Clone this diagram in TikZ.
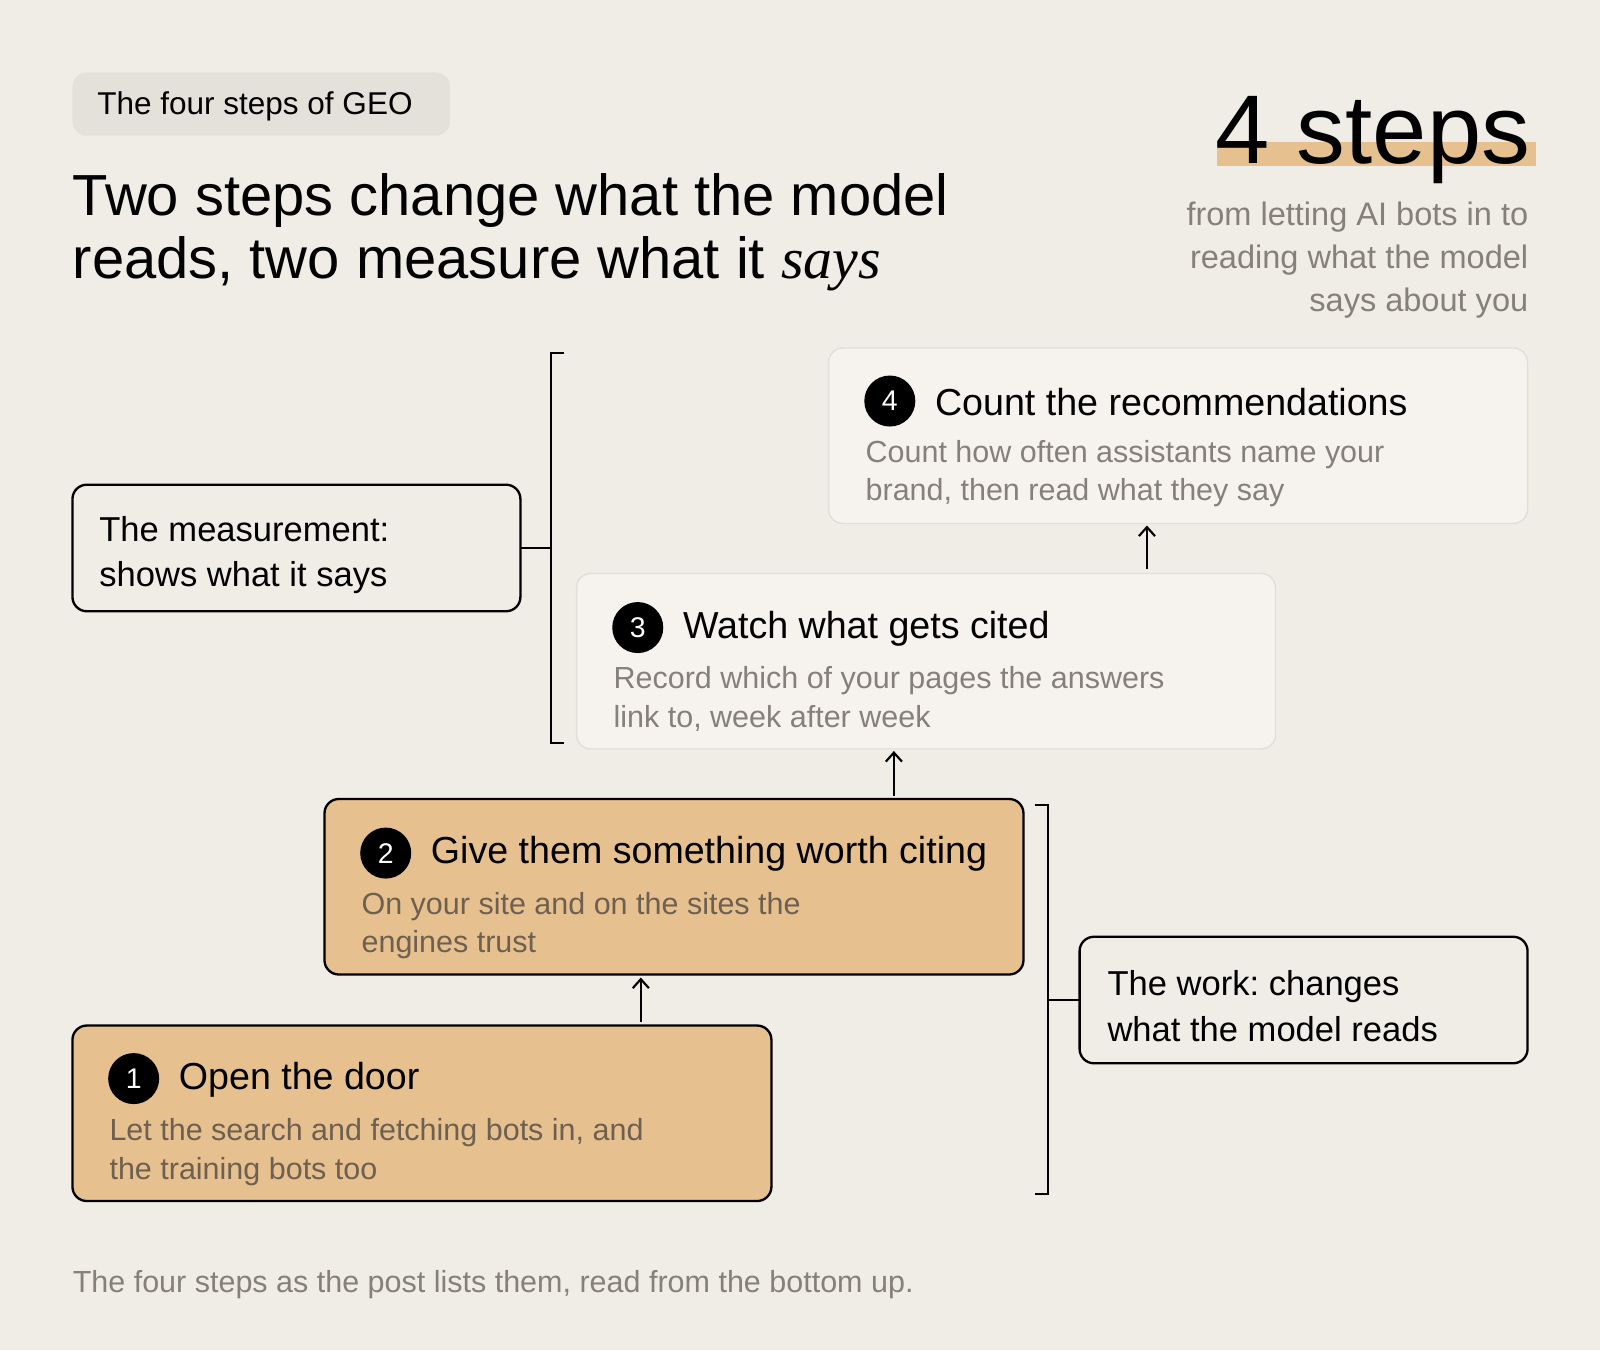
\documentclass[tikz,border=0pt]{standalone}
\usepackage{fontspec}
\setmainfont{Liberation Sans}
\newfontfamily\serifit{Liberation Serif}
\usetikzlibrary{arrows.meta}
\frenchspacing
\definecolor{bg}{HTML}{F0EDE7}
\definecolor{tagbg}{HTML}{E4E0DA}
\definecolor{lightbox}{HTML}{F6F3EE}
\definecolor{lightborder}{HTML}{E2DED8}
\definecolor{tan}{HTML}{E6C18F}
\definecolor{greytxt}{HTML}{85807A}
\definecolor{tandesc}{HTML}{6E6050}
\newcommand{\px}[1]{\fontsize{\dimexpr #1pt*567/1000\relax}{\dimexpr #1pt*68/100\relax}\selectfont}
\begin{document}
\begin{tikzpicture}[x=0.02cm,y=-0.02cm,
  tanbox/.style={draw=black,line width=1.3pt,rounded corners=8pt,fill=tan},
  lstep/.style={draw=lightborder,line width=0.8pt,rounded corners=8pt,fill=lightbox},
  lab/.style={draw=black,line width=1.3pt,rounded corners=8pt,fill=bg},
  num/.style={circle,fill=black,text=white,minimum size=1.0cm,inner sep=0pt,font=\px{28}},
  ttl/.style={anchor=west,inner sep=0pt,font=\px{37}},
  desc/.style={anchor=north west,inner sep=0pt,align=left,font=\px{30},text=greytxt},
  br/.style={line width=1.2pt},
  arr/.style={-{Straight Barb[length=5pt,width=9pt]},line width=1.2pt}]
\fill[bg] (0,0) rectangle (1568,1323);
\useasboundingbox (0,0) rectangle (1568,1323);
% tag
\fill[tagbg,rounded corners=8pt] (71,71) rectangle (441,133);
\node[anchor=west,inner sep=0pt,font=\px{31}] (tag) at (95,104) {The four steps of GEO};
% title
\node[anchor=north west,inner sep=0pt,align=left,font=\px{57}] (title) at (71,170)
  {Two steps change what the model\\[-4pt]reads, two measure what it {\serifit\itshape says}};
% 4 steps
\fill[tan] (1193,139) rectangle (1505,163);
\node[anchor=base east,inner sep=0pt,font=\px{96}] (big) at (1500,160) {4 steps};
\node[anchor=north east,inner sep=0pt,align=right,font=\px{32},text=greytxt] (sub) at (1498,198)
  {from letting AI bots in to\\[2pt]reading what the model\\[2pt]says about you};
% boxes
\draw[lstep] (812,341) rectangle (1497,513);
\node[num] (n4) at (872,393) {4};
\node[ttl] (t4) at (916,394) {Count the recommendations};
\node[desc] (d4) at (848,431) {Count how often assistants name your\\[1pt]brand, then read what they say};
\draw[lstep] (565,562) rectangle (1250,734);
\node[num] (n3) at (625,615) {3};
\node[ttl] (t3) at (669,616) {Watch what gets cited};
\node[desc] (d3) at (601,653) {Record which of your pages the answers\\[1pt]link to, week after week};
\draw[tanbox] (318,783) rectangle (1003,955);
\node[num] (n2) at (378,836) {2};
\node[ttl] (t2) at (422,837) {Give them something worth citing};
\node[desc,text=tandesc] (d2) at (354,874) {On your site and on the sites the\\[1pt]engines trust};
\draw[tanbox] (71,1005) rectangle (756,1177);
\node[num] (n1) at (131,1057) {1};
\node[ttl] (t1) at (175,1058) {Open the door};
\node[desc,text=tandesc] (d1) at (107,1096) {Let the search and fetching bots in, and\\[1pt]the training bots too};
% arrows
\coordinate (a1s) at (1124,558); \coordinate (a1e) at (1124,515);
\coordinate (a2s) at (876,780); \coordinate (a2e) at (876,736);
\coordinate (a3s) at (628,1002); \coordinate (a3e) at (628,958);
\draw[arr] (a1s) -- (a1e);
\draw[arr] (a2s) -- (a2e);
\draw[arr] (a3s) -- (a3e);
% brackets
\draw[br] (553,346) -- (540,346) -- (540,728) -- (553,728);
\draw[br] (510,537) -- (540,537);
\draw[lab] (71,475) rectangle (510,599);
\node[anchor=west,inner sep=0pt,align=left,font=\px{34}] (m) at (97,544) {The measurement:\\[2pt]shows what it says};
\draw[br] (1014,789) -- (1027,789) -- (1027,1170) -- (1014,1170);
\draw[br] (1027,980) -- (1058,980);
\draw[lab] (1058,918) rectangle (1497,1042);
\node[anchor=west,inner sep=0pt,align=left,font=\px{34}] (w) at (1085,986) {The work: changes\\[2pt]what the model reads};
% footer
\node[anchor=west,inner sep=0pt,font=\px{30},text=greytxt] (foot) at (71,1259) {The four steps as the post lists them, read from the bottom up.};
\end{tikzpicture}
\end{document}
